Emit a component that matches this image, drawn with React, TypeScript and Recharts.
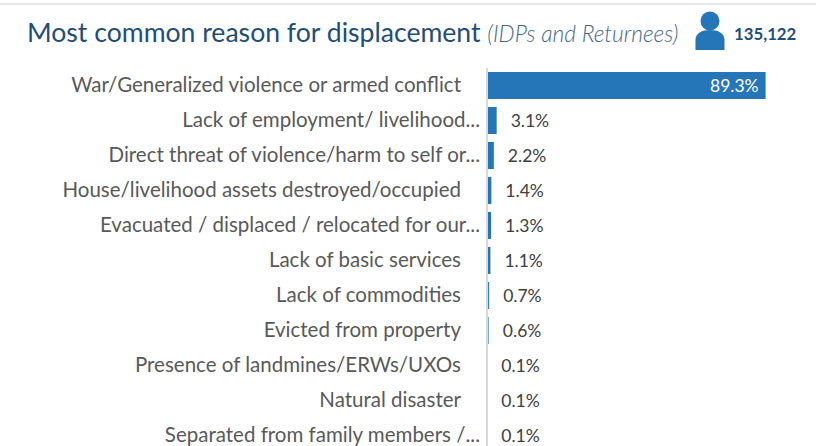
import React from "react";
import { BarChart, Bar, XAxis, YAxis, LabelList, Cell } from "recharts";

const categories = [
  "War/Generalized violence or armed conflict",
  "Lack of employment/ livelihood...",
  "Direct threat of violence/harm to self or...",
  "House/livelihood assets destroyed/occupied",
  "Evacuated / displaced / relocated for our...",
  "Lack of basic services",
  "Lack of commodities",
  "Evicted from property",
  "Presence of landmines/ERWs/UXOs",
  "Natural disaster",
  "Separated from family members /...",
];
const values = [89.3, 3.1, 2.2, 1.4, 1.3, 1.1, 0.7, 0.6, 0.1, 0.1, 0.1];
const barColors = ["#2575b9", "#2575b9", "#2575b9", "#2575b9", "#2575b9", "#2575b9", "#2f80c4", "#5f9fd6", "#ffffff", "#ffffff", "#ffffff"];
const data = categories.map((name, i) => ({ name, value: values[i] }));

const FONT = "Lato, 'Open Sans', sans-serif";

const CategoryTick = (props: any) => {
  const { x, y, payload } = props;
  const s: string = payload.value;
  const shift = s.endsWith("...") ? 1 : -18;
  return (
    <text x={x + shift} y={y + 6.5} textAnchor="end" fontFamily={FONT} fontSize={20.5} fill="#595959">
      {s}
    </text>
  );
};

const ValueLabel = (props: any) => {
  const { x, y, width, height, value } = props;
  const big = value > 50;
  return (
    <text
      x={big ? x + width - 7 : x + width + 14}
      y={y + height / 2 + 6.5}
      textAnchor={big ? "end" : "start"}
      fontFamily={FONT}
      fontSize={17.5}
      fill={big ? "#ffffff" : "#404040"}
    >
      {value.toFixed(1)}%
    </text>
  );
};

export default function App() {
  return (
    <div style={{ position: "absolute", left: 0, top: 0, width: 816, height: 446, overflow: "hidden", background: "#fff" }}>
      <div style={{ position: "absolute", left: 0, top: 3, width: 816, height: 2, background: "#e6e6e6" }} />
      <div style={{ position: "absolute", left: 27, top: 13, whiteSpace: "nowrap", fontFamily: FONT, color: "#1f4e79", fontSize: 26.6, lineHeight: "38px" }}>
        Most common reason for displacement{" "}
        <span style={{ fontStyle: "italic", fontWeight: 300, fontSize: 22.7, color: "#44688c" }}>(IDPs and Returnees)</span>
      </div>
      <svg style={{ position: "absolute", left: 694, top: 10 }} width={34} height={42}>
        <circle cx={16} cy={11} r={9.5} fill="#2575b9" />
        <path d="M1.5 40 V30 C1.5 23 8 20 16 20 C24 20 30.5 23 30.5 30 V40 Z" fill="#2575b9" />
      </svg>
      <div style={{ position: "absolute", left: 734, top: 23, fontFamily: FONT, fontWeight: 700, fontSize: 16.8, color: "#1f4e79" }}>135,122</div>
      <div style={{ position: "absolute", left: 0, top: 0 }}>
        <BarChart
          width={816}
          height={470}
          data={data}
          layout="vertical"
          margin={{ top: 68, right: 17, bottom: 17, left: 0 }}
          barCategoryGap={4}
        >
          <XAxis type="number" hide domain={[0, 100]} />
          <YAxis
            type="category"
            dataKey="name"
            width={487}
            interval={0}
            tick={<CategoryTick />}
            tickLine={false}
            axisLine={{ stroke: "#d9d9d9", strokeWidth: 2 }}
          />
          <Bar dataKey="value" isAnimationActive={false}>
            {data.map((d, i) => (
              <Cell key={d.name} fill={barColors[i]} />
            ))}
            <LabelList dataKey="value" content={<ValueLabel />} />
          </Bar>
        </BarChart>
      </div>
    </div>
  );
}
